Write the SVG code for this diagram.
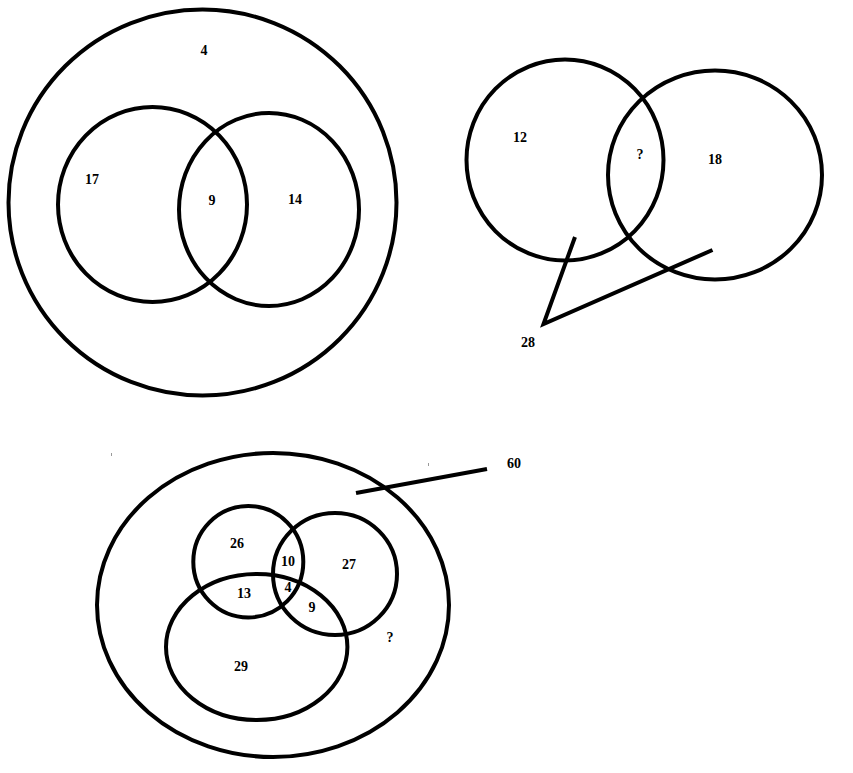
<svg xmlns="http://www.w3.org/2000/svg" width="853" height="773" viewBox="0 0 853 773">
<style>
.c{fill:none;stroke:#000;stroke-width:4}
.l{fill:none;stroke:#000;stroke-width:4;stroke-linecap:butt;stroke-linejoin:miter}
.t{font-family:"Liberation Serif","Times New Roman",serif;font-weight:bold;font-size:14px;fill:#000;text-anchor:middle}
.d{stroke:#999;stroke-width:1}
</style>
<rect width="853" height="773" fill="#fff"/>
<g id="venn1">
<g id="universe1"><ellipse class="c" cx="202.5" cy="202.5" rx="194" ry="193"/><text class="t" x="204" y="55">4</text></g>
<g id="setA1"><ellipse class="c" cx="152.5" cy="204.5" rx="94.5" ry="97.5"/><text class="t" x="92" y="184">17</text></g>
<g id="setB1"><ellipse class="c" cx="269" cy="209.5" rx="90" ry="96.5"/><text class="t" x="295" y="204">14</text></g>
<g id="inter1"><text class="t" x="212" y="205">9</text></g>
</g>
<g id="venn2">
<g id="setA2"><ellipse class="c" cx="565" cy="160" rx="98.5" ry="100.5"/><text class="t" x="520" y="142">12</text></g>
<g id="setB2"><ellipse class="c" cx="715" cy="175" rx="107" ry="104.5"/><text class="t" x="715" y="164">18</text></g>
<g id="inter2"><text class="t" x="640" y="159">?</text></g>
<g id="label28"><text class="t" x="528" y="347">28</text></g>
</g>
<g id="venn3">
<g id="universe3"><ellipse class="c" cx="273" cy="605" rx="176" ry="152"/><text class="t" x="390" y="642">?</text></g>
<g id="setA3"><ellipse class="c" cx="248.3" cy="561.7" rx="55" ry="55.7"/><text class="t" x="237" y="548">26</text></g>
<g id="setB3"><ellipse class="c" cx="335" cy="574" rx="62" ry="61"/><text class="t" x="349" y="569">27</text></g>
<g id="setC3"><ellipse class="c" cx="256.7" cy="647" rx="90.7" ry="73"/><text class="t" x="241" y="671">29</text></g>
<g id="regions3">
<text class="t" x="288" y="566">10</text>
<text class="t" x="244" y="598">13</text>
<text class="t" x="288" y="592">4</text>
<text class="t" x="312" y="612">9</text>
</g>
<g id="label60"><text class="t" x="514" y="468">60</text></g>
</g>
<g id="connectors">
<polyline class="l" points="575,237 543.5,324 712.5,250"/>
<line class="l" x1="356" y1="493" x2="487" y2="469"/>
<line class="d" x1="111.5" y1="453" x2="111.5" y2="456"/>
<line class="d" x1="428.5" y1="463" x2="428.5" y2="466"/>
</g>
</svg>
